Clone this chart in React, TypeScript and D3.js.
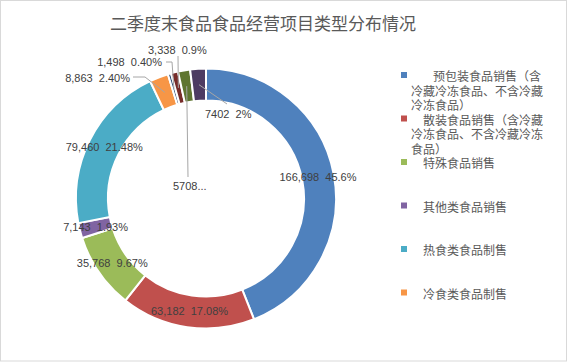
import * as React from 'react';
import * as d3 from 'd3';

// values and labels as they appear on the chart
const categories = [
  '预包装食品销售（含冷藏冷冻食品、不含冷藏冷冻食品）',
  '散装食品销售（含冷藏冷冻食品、不含冷藏冷冻食品）',
  '特殊食品销售',
  '其他类食品销售',
  '热食类食品制售',
  '冷食类食品制售',
  '生食类食品制售',
  '糕点类食品制售',
  '自制饮品制售',
  '其他类食品制售',
];
const values = [166698, 63182, 35768, 7143, 79460, 8863, 1498, 3338, 5708, 7402];
const valueLabels = ['166,698', '63,182', '35,768', '7,143', '79,460', '8,863', '1,498', '3,338', '5708...', '7402'];
const pctLabels = ['45.6%', '17.08%', '9.67%', '1.93%', '21.48%', '2.40%', '0.40%', '0.9%', '', '2%'];
const colors = ['#4F81BD', '#C0504D', '#9BBB59', '#8064A2', '#4BACC6', '#F79646', '#2C4D75', '#772C2A', '#5F7530', '#4D3B62'];

// legend only shows the first six entries (wrapped as in the original)
const legendLines = [
  ['预包装食品销售（含', '冷藏冷冻食品、不含冷藏', '冷冻食品）'],
  ['散装食品销售（含冷藏', '冷冻食品、不含冷藏冷冻', '食品）'],
  ['特殊食品销售'],
  ['其他类食品销售'],
  ['热食类食品制售'],
  ['冷食类食品制售'],
];
const legendIndent = [22, 12, 12, 12, 12, 12];

const title = '二季度末食品食品经营项目类型分布情况';

const W = 568;
const H = 362;
const cx = 206;
const cy = 198.5;
const outerR = 130;
const innerR = 98;

// manually placed labels for the thin slices (relative to centre)
const placedLabels: Record<number, {x: number, y: number, anchor: string, line: [number, number][]}> = {
  5: {x: -76, y: -120.5, anchor: 'end', line: [[-73, -121.5], [-61, -121.5]]},
  6: {x: -44, y: -136.5, anchor: 'end', line: [[-40, -136.5], [-34, -136.5]]},
  7: {x: -58, y: -148.5, anchor: 'start', line: [[-28, -142.5]]},
  8: {x: -33, y: -12.5, anchor: 'start', line: [[-18, -21.5]]},
  9: {x: -1, y: -84.5, anchor: 'start', line: [[21, -94.5]]},
};

export default function App() {
  const pie = d3.pie<number>().sort(null).value(d => d);
  const arcs = pie(values);
  const arc = d3.arc<d3.PieArcDatum<number>>().innerRadius(innerR).outerRadius(outerR);
  const line = d3.line();

  const numFont = '"Liberation Sans", Arial, sans-serif';
  const cjkFont = '"Noto Sans CJK SC", sans-serif';

  return (
    <svg width={W} height={H} style={{position: 'absolute', left: 0, top: 0, background: '#fff'}}>
      <rect x={0.5} y={0.5} width={W - 2} height={H - 1.5} fill="#fff" stroke="#D9D9D9" />
      <text x={263} y={22} textAnchor="middle" dominantBaseline="central"
            fontFamily={cjkFont} fontSize={17} fill="#595959">{title}</text>

      <g transform={`translate(${cx},${cy})`}>
        {arcs.map((a, i) => (
          <path key={i} d={arc(a) || ''} fill={colors[i]} stroke="#fff" strokeWidth={2} />
        ))}

        {arcs.map((a, i) => {
          const p = placedLabels[i];
          if (!p) return null;
          const c = arc.centroid(a);
          const pts = [...p.line, c as [number, number]];
          return <path key={'l' + i} d={line(pts) || ''} fill="none" stroke="#A6A6A6" strokeWidth={1} />;
        })}

        {arcs.map((a, i) => {
          const p = placedLabels[i];
          const [x, y] = p ? [p.x, p.y] : arc.centroid(a);
          const txt = pctLabels[i] ? `${valueLabels[i]}  ${pctLabels[i]}` : valueLabels[i];
          return (
            <text key={'t' + i} x={x} y={y} textAnchor={p ? p.anchor : 'middle'} dominantBaseline="central"
                  fontFamily={numFont} fontSize={11} fill="#404040" style={{whiteSpace: 'pre'}}>
              {txt}
            </text>
          );
        })}
      </g>

      <g fontFamily={cjkFont} fontSize={12} fill="#595959">
        {legendLines.map((lines, i) => {
          const y0 = 75 + i * 43.5;
          return (
            <g key={i}>
              <rect x={401} y={y0 - 3} width={6} height={6} fill={colors[i]} />
              <text dominantBaseline="central">
                {lines.map((s, j) => (
                  <tspan key={j} x={j === 0 ? 411 + legendIndent[i] : 411} y={y0 + j * 14.5}>{s}</tspan>
                ))}
              </text>
            </g>
          );
        })}
      </g>
    </svg>
  );
}
